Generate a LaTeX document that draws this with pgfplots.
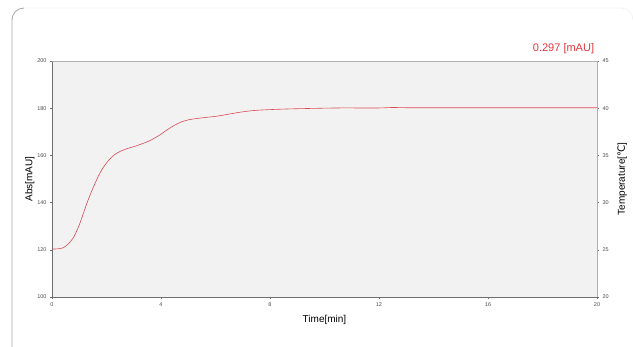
\documentclass[border=0pt]{standalone}
\usepackage{pgfplots}
\pgfplotsset{compat=1.18}
\usepackage{fontspec}
\setmainfont{Liberation Sans}
\newfontfamily\djv{DejaVu Sans}
\definecolor{bgc}{HTML}{F2F2F2}
\definecolor{linec}{HTML}{DB4B55}
\definecolor{axc}{HTML}{6E6E6E}
\definecolor{redt}{HTML}{E2363B}
\begin{document}
\begin{tikzpicture}[x=1pt,y=1pt]
\useasboundingbox (0,0) rectangle (633,347);
% outer frame
\draw[gray!70, line width=0.8pt] (12,0) -- (12,327) arc[start angle=180,end angle=90,radius=12];
\draw[gray!12, line width=0.6pt] (24,339) -- (621,339) arc[start angle=90,end angle=0,radius=12];
\begin{axis}[
  at={(52pt,50pt)}, anchor=south west,
  scale only axis, width=545pt, height=236pt,
  xmin=0, xmax=20, ymin=100, ymax=200,
  xtick={0,4,8,12,16,20}, ytick={100,120,140,160,180,200},
  axis y line*=left, axis x line*=bottom,
  axis line style={axc, line width=0.8pt},
  tick align=outside, major tick length=2pt,
  tick style={axc, line width=0.4pt},
  ticklabel style={font=\fontsize{5.5}{6}\selectfont, text=black!70},
  /pgf/number format/assume math mode=true,
  axis background/.style={fill=bgc},
  xlabel={Time[min]}, ylabel={Abs[mAU]},
  xlabel style={font=\fontsize{10}{11}\selectfont, yshift=-2pt},
  ylabel style={font=\fontsize{10}{11}\selectfont, yshift=-4pt},
  clip=false,
]
\addplot[linec, line width=0.6pt, smooth, tension=0.35] coordinates {
(0,120.3) (0.2,120.4) (0.4,120.8) (0.6,122.5) (0.8,125.4) (1.0,130.5) (1.15,135.4) (1.3,140.4) (1.52,146.6) (1.7,151.2) (1.88,154.9) (2.1,158.2) (2.31,160.4) (2.5,161.7) (2.74,162.8) (3.0,163.7) (3.23,164.6) (3.6,166.3) (3.96,168.7) (4.2,170.6) (4.45,172.5) (4.75,174.2) (5.06,175.2) (5.5,175.9) (6.04,176.6) (6.5,177.5) (6.9,178.3) (7.3,178.9) (7.63,179.2) (8.2,179.5) (8.73,179.7) (9.5,179.9) (10.5,180.1) (12,180.1) (12.5,180.3) (13,180.2) (14,180.2) (20,180.2)
};
\draw[gray!60, line width=0.8pt] (axis cs:0,200) -- (axis cs:20,200);
\node[anchor=base east, text=redt, font=\fontsize{11}{12}\selectfont, inner sep=0pt] at (axis cs:19.9,204.0) {0.297 [mAU]};
\end{axis}
\begin{axis}[
  at={(52pt,50pt)}, anchor=south west,
  scale only axis, width=545pt, height=236pt,
  xmin=0, xmax=20, ymin=20, ymax=45,
  ytick={20,25,30,35,40,45},
  axis y line*=right, hide x axis,
  axis line style={gray!60, line width=0.8pt},
  tick align=outside, major tick length=2pt,
  tick style={axc, line width=0.4pt},
  ticklabel style={font=\fontsize{5.5}{6}\selectfont, text=black!70},
  /pgf/number format/assume math mode=true,
  ylabel={Temperature[{\djv ℃}]},
  ylabel style={font=\fontsize{10}{11}\selectfont, yshift=-2pt},
]
\end{axis}
\end{tikzpicture}
\end{document}
